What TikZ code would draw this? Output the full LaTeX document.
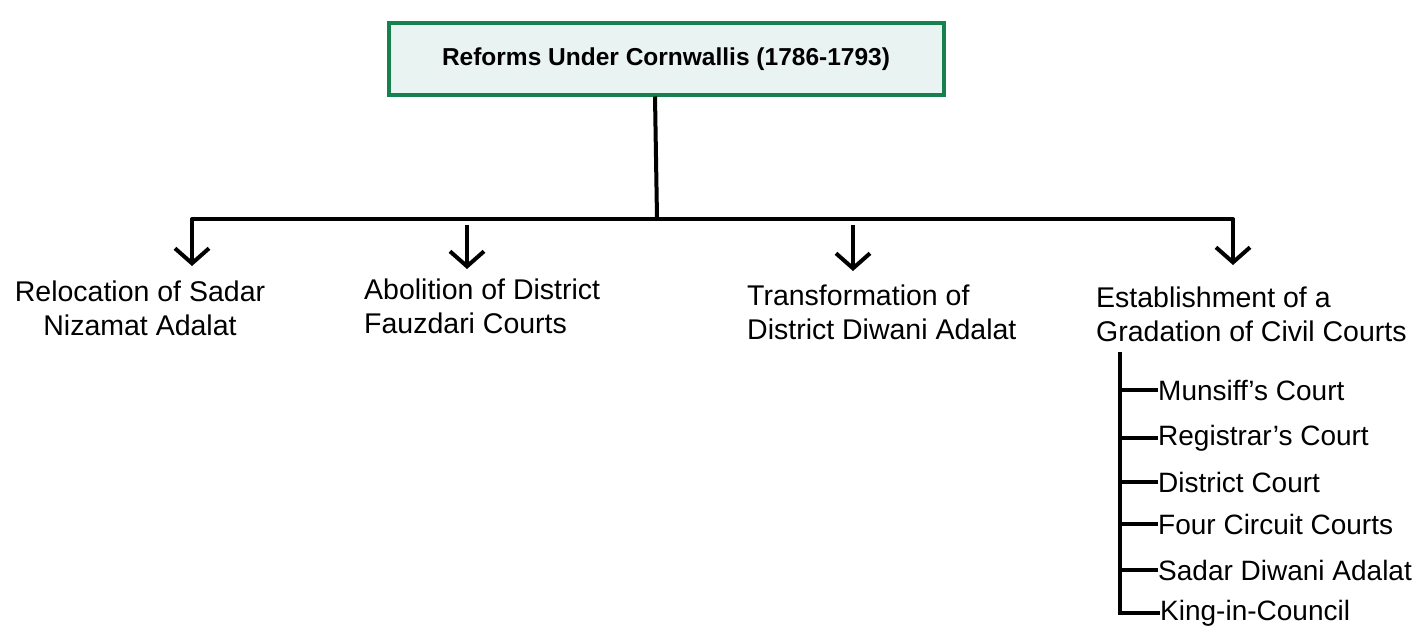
\documentclass[tikz,border=0pt]{standalone}
\usepackage{fontspec}
\setmainfont{Liberation Sans}
\usetikzlibrary{arrows.meta}
\definecolor{boxgreen}{HTML}{17804F}
\definecolor{boxfill}{HTML}{E9F3F1}
\begin{document}
\begin{tikzpicture}[x=1pt,y=-1pt,
  conn/.style={line width=4pt,black},
  arr/.style={conn,-{Straight Barb[length=15pt,width=34pt,line width=4pt]}},
  lbl/.style={font=\fontsize{28.5}{34}\selectfont,inner sep=0pt,align=left,anchor=north west},
  sub/.style={font=\fontsize{28}{30}\selectfont,inner sep=0pt,anchor=west}]
\useasboundingbox (0,0) rectangle (1422,642);
\node[draw=boxgreen,fill=boxfill,line width=4pt,minimum width=555pt,minimum height=71pt,
  font=\bfseries\fontsize{24.5}{28}\selectfont] (top) at (666,59) {Reforms Under Cornwallis (1786-1793)};
\coordinate (j) at (657,218);
\coordinate (bl) at (192,219);
\coordinate (br) at (1233,219);
\coordinate (a2) at (467,225);
\coordinate (a3) at (853,225);
\node[lbl,align=center,anchor=north] (n1) at (140,281) {Relocation of Sadar\\Nizamat Adalat};
\node[lbl] (n2) at (364,278.5) {Abolition of District\\Fauzdari Courts};
\node[lbl] (n3) at (747,284.5) {Transformation of\\District Diwani Adalat};
\node[lbl] (n4) at (1096,286.5) {Establishment of a\\Gradation of Civil Courts};
\draw[conn] (top.south -| 655,0) -- (j);
\draw[conn,line cap=round] (bl) -- (br);
\draw[arr] (bl) -- (192,266);
\draw[arr] (a2) -- (467,269);
\draw[arr] (a3) -- (853,271);
\draw[arr] (br) -- (1233,265);
% sub list
\node[sub] (s1) at (1158,390) {Munsiff’s Court};
\node[sub] (s2) at (1158,438) {Registrar’s Court};
\node[sub] (s3) at (1158,482) {District Court};
\node[sub] (s4) at (1158,524) {Four Circuit Courts};
\node[sub] (s5) at (1158,570) {Sadar Diwani Adalat};
\node[sub] (s6) at (1160,613) {King-in-Council};
\coordinate (vtop) at (1120,352);
\draw[conn] (vtop) |- (s6.west);
\foreach \s in {s1,s2,s3,s4,s5}{
  \draw[conn] (\s.west) -- (\s.west -| vtop);
}
\end{tikzpicture}
\end{document}
